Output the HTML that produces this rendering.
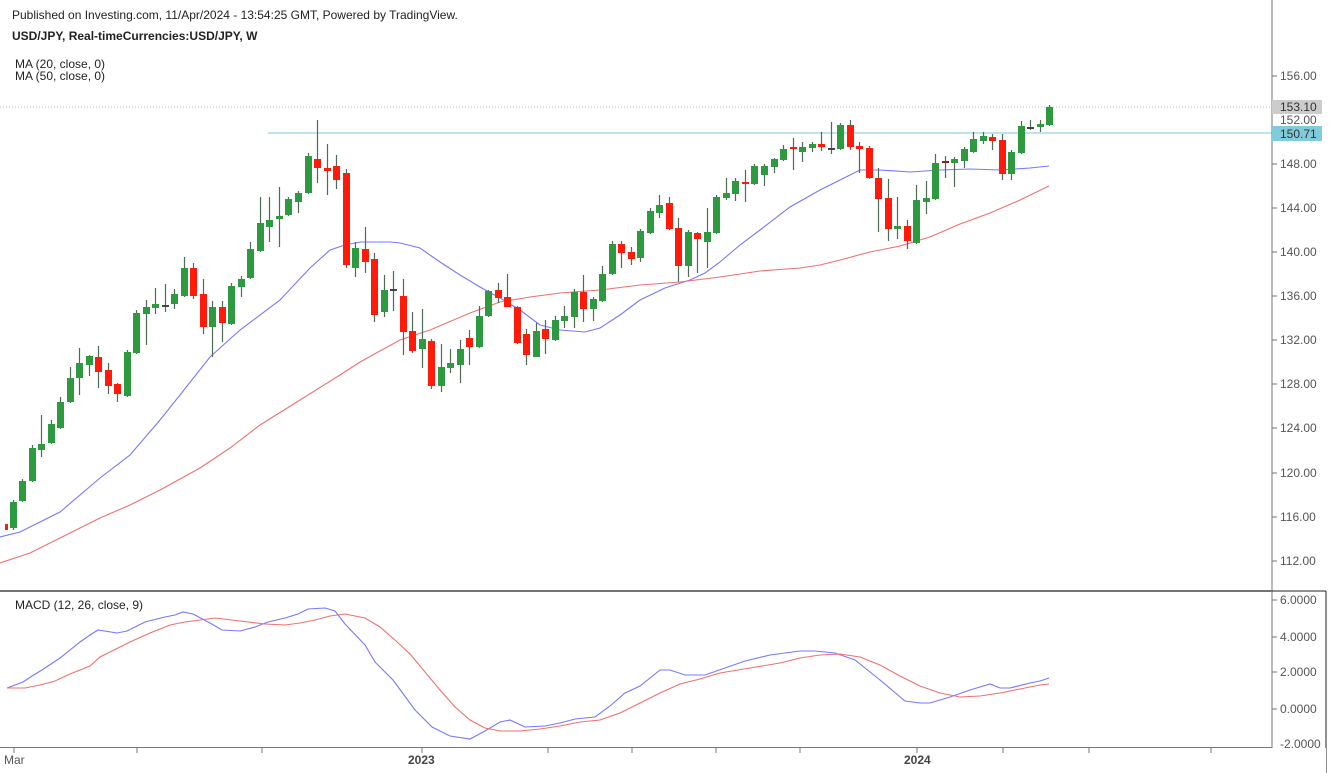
<!DOCTYPE html>
<html><head><meta charset="utf-8">
<style>
html,body{margin:0;padding:0;background:#fff;}
svg{display:block;font-family:"Liberation Sans",Arial,sans-serif;}
</style></head>
<body>
<svg id="c" width="1332" height="773" xmlns="http://www.w3.org/2000/svg">
<rect width="1332" height="773" fill="#fff"/>
<text x="12" y="19" font-size="12" fill="#222">Published on Investing.com, 11/Apr/2024 - 13:54:25 GMT, Powered by TradingView.</text>
<text x="12" y="40" font-size="12" font-weight="bold" fill="#222">USD/JPY, Real-timeCurrencies:USD/JPY, W</text>
<text x="15" y="68" font-size="12" fill="#222">MA (20, close, 0)</text>
<text x="15" y="80" font-size="12" fill="#222">MA (50, close, 0)</text>
<text x="15" y="609" font-size="12" fill="#222">MACD (12, 26, close, 9)</text>
<line x1="0" y1="107" x2="1272" y2="107" stroke="#bbb" stroke-dasharray="1,2"/>
<line x1="268" y1="133" x2="1272" y2="133" stroke="#7cc8d4" stroke-width="1"/>
<line x1="0" y1="591" x2="1272" y2="591" stroke="#222" stroke-width="1.3"/>
<line x1="1272" y1="0" x2="1272" y2="748" stroke="#777"/>
<line x1="0" y1="747.5" x2="1272" y2="747.5" stroke="#777"/>
<line x1="1326" y1="591" x2="1326" y2="773" stroke="#222"/>
<line x1="1272" y1="591" x2="1326" y2="591" stroke="#222"/>
<g id="g"></g>
</svg>
<script>
var NS="http://www.w3.org/2000/svg",g=document.getElementById('g');
function el(t,a,txt){var e=document.createElementNS(NS,t);for(var k in a)e.setAttribute(k,a[k]);if(txt!==undefined)e.textContent=txt;g.appendChild(e);return e;}
// price axis
var pl=[[156,76],[148,164],[144,208],[140,252],[136,296],[132,340],[128,384],[124,428],[120,473],[116,517],[112,561]];
pl.forEach(function(p){el('line',{x1:1272,y1:p[1],x2:1277,y2:p[1],stroke:'#777'});el('text',{x:1280,y:p[1]+4,'font-size':12,fill:'#555'},p[0].toFixed(2));});
el('text',{x:1280,y:124,'font-size':12,fill:'#555'},'152.00');
el('rect',{x:1272,y:100,width:50,height:14,fill:'#ccc'});
el('text',{x:1280,y:111,'font-size':12,fill:'#333'},'153.10');
el('rect',{x:1272,y:126,width:50,height:15,fill:'#80ccdc'});
el('text',{x:1280,y:138,'font-size':12,fill:'#333'},'150.71');
[[6,600],[4,637],[2,672],[0,709]].forEach(function(p){el('line',{x1:1272,y1:p[1],x2:1277,y2:p[1],stroke:'#777'});el('text',{x:1280,y:p[1]+4,'font-size':12,fill:'#555'},p[0].toFixed(4));});
el('text',{x:1280,y:748,'font-size':12,fill:'#555'},'-2.0000');
el('rect',{x:1272,y:748,width:54,height:25,fill:'#fff'});
// time axis
[14,137,262,422,548,632,716,800,917,1003,1089,1211].forEach(function(x){el('line',{x1:x,y1:748,x2:x,y2:753,stroke:'#777'});});
el('text',{x:4,y:764,'font-size':12,fill:'#555'},'Mar');
el('text',{x:408,y:764,'font-size':12,'font-weight':'bold',fill:'#444'},'2023');
el('text',{x:904,y:764,'font-size':12,'font-weight':'bold',fill:'#444'},'2024');
function pl2(pts,col){el('polyline',{points:pts.map(function(p){return p.join(',')}).join(' '),fill:'none',stroke:col,'stroke-width':1.1});}
pl2([[0,537],[20,532],[60,512],[100,478],[130,455],[160,420],[180,395],[210,357],[240,330],[280,300],[310,268],[330,250],[345,245],[360,242],[390,242],[400,243],[420,248],[440,262],[460,275],[480,287],[500,298],[520,310],[540,325],[560,330],[585,332],[600,328],[620,315],[640,300],[665,288],[690,280],[705,273],[720,262],[740,245],[760,230],[790,207],[820,190],[840,180],[860,170],[880,170],[910,172],[940,170],[970,169],[1000,170],[1030,168],[1049,166]],'#7777ff');
pl2([[0,563],[30,553],[70,533],[100,518],[130,505],[160,490],[200,468],[230,448],[260,425],[300,400],[340,375],[360,362],[400,340],[430,330],[470,313],[500,302],[530,297],[560,293],[600,290],[640,285],[680,282],[720,277],[760,271],[800,268],[820,265],[840,260],[870,252],[900,246],[930,237],[960,224],[990,213],[1020,200],[1049,186]],'#f07070');
pl2([[7,688],[23,682],[32,676],[42,670],[60,658],[80,642],[90,635],[98,630],[117,633],[127,631],[145,622],[165,617],[175,615],[183,612],[193,614],[210,623],[222,630],[240,631],[255,627],[268,622],[285,618],[298,614],[308,609],[325,608],[335,611],[345,624],[365,645],[375,662],[393,680],[415,710],[432,727],[450,736],[470,739],[485,731],[500,722],[510,720],[525,727],[545,726],[560,723],[575,719],[595,717],[610,706],[625,693],[640,686],[660,670],[670,670],[685,675],[705,675],[725,668],[745,661],[770,655],[800,651],[815,651],[835,653],[855,660],[880,680],[905,701],[920,703],[930,703],[950,697],[970,690],[990,684],[1000,688],[1010,688],[1030,683],[1040,681],[1049,678]],'#7777ff');
pl2([[7,688],[25,688],[40,685],[55,681],[70,674],[90,666],[100,657],[130,642],[150,633],[170,625],[185,622],[200,620],[215,618],[240,621],[265,624],[285,625],[300,623],[315,620],[330,616],[345,614],[365,618],[380,627],[395,640],[410,654],[425,672],[440,690],[455,707],[470,720],[485,728],[500,731],[520,731],[540,729],[560,726],[580,722],[600,720],[620,713],[640,703],[660,693],[680,684],[700,679],[720,673],[750,668],[780,663],[800,658],[820,655],[840,654],[860,657],[880,665],[900,676],[920,686],[940,693],[960,697],[980,696],[1000,693],[1020,689],[1040,685],[1049,684]],'#f07070');
// candles: [open,close,high,low] pixel y
var C=[[528,502,500,530],[501,481,479,502],[481,448,445,482],[450,444,415,457],[443,424,420,444],[428,402,397,429],[402,378,367,403],[378,363,348,395],[365,356,355,376],[357,372,346,388],[370,386,363,394],[384,394,383,402],[396,352,350,397],[353,313,310,354],[314,307,300,345],[308,304,288,314],[305,305,284,312],[304,294,289,309],[296,268,257,297],[268,296,263,299],[294,327,279,334],[327,307,301,357],[307,323,301,342],[324,286,283,325],[287,279,276,297],[278,249,242,279],[251,223,197,252],[227,220,197,242],[219,216,187,247],[215,199,197,216],[202,193,191,213],[193,156,153,194],[159,168,120,183],[168,171,144,195],[166,180,155,189],[173,265,169,268],[268,248,242,277],[249,262,227,273],[259,315,253,322],[312,290,275,317],[289,289,271,311],[296,332,279,355],[331,351,312,353],[349,339,309,368],[341,386,339,389],[386,367,344,392],[368,363,349,373],[365,349,340,383],[338,347,330,365],[347,316,306,348],[316,291,290,317],[290,298,283,303],[297,307,274,307],[307,343,306,344],[334,355,329,365],[357,331,323,357],[329,339,320,354],[340,320,316,341],[321,316,306,328],[317,292,289,328],[292,309,275,322],[309,299,297,321],[301,274,266,302],[274,244,241,275],[244,253,241,268],[252,259,247,265],[258,231,229,262],[233,211,208,234],[213,205,195,218],[203,229,197,230],[228,266,218,282],[266,232,230,277],[233,239,232,273],[242,232,208,268],[233,197,195,234],[198,193,178,200],[194,181,178,201],[182,184,170,202],[184,166,164,185],[175,166,164,186],[167,159,158,173],[160,149,145,161],[147,149,138,170],[152,147,142,162],[148,144,142,152],[144,147,132,151],[148,148,122,154],[149,125,123,150],[125,147,120,150],[146,149,142,173],[148,178,146,179],[178,199,168,232],[198,229,179,241],[229,226,197,239],[226,241,220,249],[243,200,185,244],[202,198,181,214],[199,163,154,200],[161,161,156,178],[163,159,157,187],[161,149,147,168],[152,139,132,153],[141,136,132,144],[137,141,134,150],[140,174,134,180],[174,152,150,180],[153,126,121,154],[127,127,120,130],[127,124,120,132],[125,107,105,126]];
var W=7;
C.forEach(function(c,i){var x=Math.round(12.7+i*9.51);var o=c[0],cl=c[1],up=cl<o||(cl==o&&false);
var dj=Math.abs(o-cl)<1;var col=dj?(i==98?'#8a2020':'#444'):(cl<o?'#2e9a40':'#ff1a0a');
el('line',{x1:x+0.5,y1:c[2],x2:x+0.5,y2:c[3],stroke:'#4f6b55','stroke-width':1.2});
var t=Math.min(o,cl),h=Math.max(Math.abs(o-cl),2);
el('rect',{x:x-3,y:t,width:W,height:h,fill:col});});
el('rect',{x:5,y:524,width:3,height:6,fill:'#ff1a0a'});
</script>
</body></html>
